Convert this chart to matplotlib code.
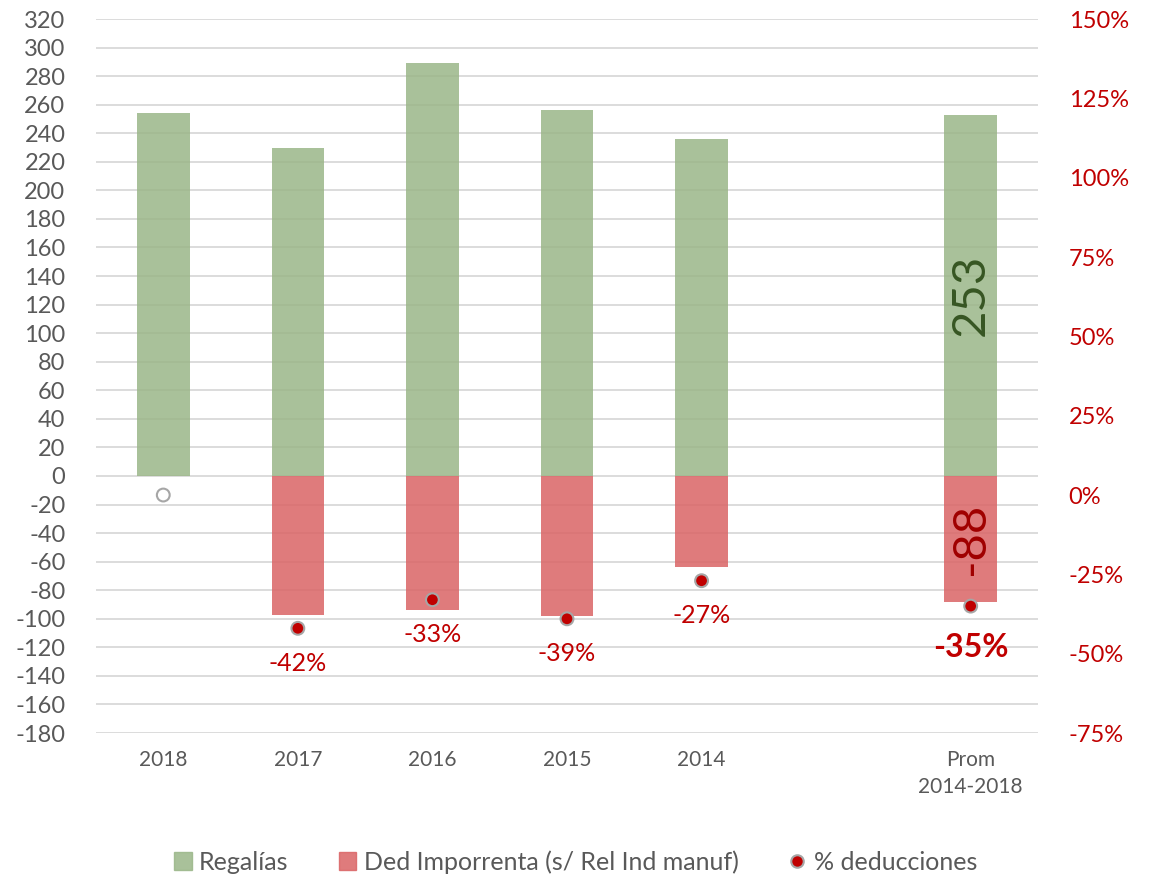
import numpy as np
import matplotlib
matplotlib.use('Agg')
import matplotlib.pyplot as plt
from matplotlib.patches import Patch
from matplotlib.lines import Line2D

plt.rcParams['font.family'] = ['Lato', 'DejaVu Sans']
plt.rcParams['axes.unicode_minus'] = False

# data (blank slot between 2014 and the average)
categories = ['2018', '2017', '2016', '2015', '2014', '', 'Prom\n2014-2018']
regalias = [254, 230, 289, 256, 236, np.nan, 253]
ded_imporrenta = [0, -97, -94, -98, -64, np.nan, -88]
pct_deducciones = [0, -42, -33, -39, -27, np.nan, -35]

green = '#9ab688'
red = '#da6465'
dark_red = '#c00000'
grey_txt = '#595959'

fig = plt.figure(figsize=(11.51, 8.76), dpi=100)
ax = fig.add_axes([0.0834, 0.1632, 0.8184, 0.8151])
ax2 = ax.twinx()

x = np.arange(len(categories))
w = 0.39

ax.set_axisbelow(True)
ax.yaxis.grid(True, color='#d9d9d9', linewidth=1.3)
ax.bar(x, regalias, w, color=green, alpha=0.85, zorder=2)
ax.bar(x, ded_imporrenta, w, color=red, alpha=0.85, zorder=2)

ax.set_xlim(-0.5, 6.5)
ax.set_ylim(-180, 320)
ax.set_yticks(np.arange(-180, 321, 20))
ax.set_xticks(x)
ax.set_xticklabels(categories, fontsize=15, color=grey_txt, linespacing=1.45)
ax.tick_params(axis='y', length=0, pad=22, labelsize=17, labelcolor=grey_txt)
ax.tick_params(axis='x', length=0, pad=12)

ax2.set_ylim(-75, 150)
ax2.set_yticks(np.arange(-75, 151, 25))
ax2.set_yticklabels(['%d%%' % v for v in np.arange(-75, 151, 25)])
ax2.tick_params(axis='y', length=0, pad=22, labelsize=17, labelcolor=dark_red)

for a in (ax, ax2):
    for s in a.spines.values():
        s.set_visible(False)

# percentage points, hollow where there is no deduction
faces = ['white' if d == 0 else dark_red for d in ded_imporrenta]
ax2.scatter(x, pct_deducciones, s=85, c=faces, edgecolors='#a6a6a6',
            linewidths=1.5, zorder=4)

last = len(categories) - 1
for i, p in enumerate(pct_deducciones):
    if np.isnan(p) or ded_imporrenta[i] == 0:
        continue
    if i == last:
        ax2.annotate('%d%%' % p, (x[i], p), xytext=(0, -30), textcoords='offset points',
                     ha='center', va='center', fontsize=23, fontweight='bold', color=dark_red)
    else:
        ax2.annotate('%d%%' % p, (x[i], p), xytext=(0, -25), textcoords='offset points',
                     ha='center', va='center', fontsize=18, color=dark_red)

# labels inside the average bar
ax.text(x[last], regalias[last] / 2, '%d' % regalias[last], rotation=90,
        ha='center', va='center', fontsize=34, color='#375623', zorder=5)
ax.text(x[last], ded_imporrenta[last] / 2, '%d' % ded_imporrenta[last], rotation=90,
        ha='center', va='center', fontsize=34, color='#a00000', zorder=5)

handles = [Patch(color=green, alpha=0.85),
           Patch(color=red, alpha=0.85),
           Line2D([], [], marker='o', linestyle='none', markersize=9,
                  markerfacecolor=dark_red, markeredgecolor='#a6a6a6', markeredgewidth=1.5)]
labels = ['Regalías', 'Ded Imporrenta (s/ Rel Ind manuf)', '% deducciones']
fig.legend(handles, labels, loc='center', bbox_to_anchor=(0.5, 0.016), ncol=3,
           frameon=False, fontsize=18, labelcolor=grey_txt, handlelength=0.7,
           handleheight=0.7, handletextpad=0.3, columnspacing=2.0)

fig.savefig('out.png', dpi=100)
